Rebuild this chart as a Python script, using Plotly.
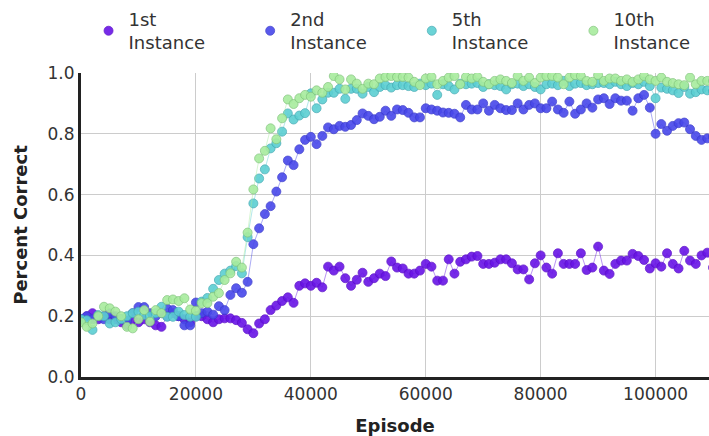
import plotly.graph_objects as go

episodes = list(range(0, 111000, 1000))

first = [0.19, 0.20, 0.21, 0.19, 0.20, 0.19, 0.19, 0.18, 0.17, 0.19,
         0.18, 0.19, 0.18, 0.17, 0.165, 0.20, 0.21, 0.20, 0.19, 0.18,
         0.20, 0.20, 0.19, 0.18, 0.19, 0.193, 0.193, 0.187, 0.178, 0.157,
         0.144, 0.176, 0.19, 0.22, 0.235, 0.25, 0.262, 0.244, 0.30, 0.308,
         0.30, 0.31, 0.295, 0.363, 0.35, 0.363, 0.325, 0.30, 0.32, 0.343,
         0.313, 0.325, 0.34, 0.332, 0.38, 0.36, 0.357, 0.34, 0.34, 0.35,
         0.372, 0.363, 0.317, 0.317, 0.387, 0.34, 0.379, 0.387, 0.396, 0.398,
         0.372, 0.372, 0.376, 0.387, 0.387, 0.374, 0.354, 0.354, 0.321, 0.374,
         0.40, 0.36, 0.34, 0.407, 0.372, 0.372, 0.372, 0.407, 0.352, 0.36,
         0.429, 0.35, 0.339, 0.372, 0.383, 0.383, 0.405, 0.398, 0.385, 0.357,
         0.374, 0.363, 0.407, 0.372, 0.357, 0.415, 0.383, 0.372, 0.40, 0.409, 0.36]

second = [0.19, 0.20, 0.19, 0.20, 0.19, 0.21, 0.20, 0.19, 0.185, 0.21,
          0.23, 0.23, 0.21, 0.20, 0.21, 0.225, 0.22, 0.20, 0.17, 0.17,
          0.245, 0.21, 0.215, 0.205, 0.233, 0.22, 0.27, 0.292, 0.277, 0.313,
          0.437, 0.489, 0.536, 0.562, 0.61, 0.657, 0.712, 0.697, 0.749, 0.78,
          0.79, 0.766, 0.793, 0.821, 0.815, 0.826, 0.823, 0.829, 0.845, 0.867,
          0.859, 0.848, 0.856, 0.876, 0.859, 0.88, 0.878, 0.869, 0.854, 0.854,
          0.884, 0.88, 0.876, 0.87, 0.869, 0.866, 0.854, 0.895, 0.88, 0.88,
          0.90, 0.876, 0.895, 0.884, 0.878, 0.878, 0.90, 0.88, 0.895, 0.90,
          0.884, 0.884, 0.906, 0.88, 0.869, 0.906, 0.866, 0.88, 0.90, 0.886,
          0.913, 0.917, 0.898, 0.917, 0.909, 0.909, 0.876, 0.917, 0.928, 0.886,
          0.80, 0.832, 0.81, 0.826, 0.835, 0.837, 0.815, 0.793, 0.78, 0.785, 0.79]

fifth = [0.19, 0.187, 0.155, 0.204, 0.20, 0.176, 0.18, 0.19, 0.20, 0.21,
         0.215, 0.204, 0.20, 0.21, 0.231, 0.198, 0.198, 0.215, 0.204, 0.198,
         0.198, 0.248, 0.26, 0.29, 0.319, 0.34, 0.35, 0.365, 0.341, 0.46,
         0.571, 0.653, 0.683, 0.752, 0.769, 0.807, 0.867, 0.847, 0.86, 0.868,
         0.933, 0.884, 0.913, 0.935, 0.935, 0.948, 0.915, 0.948, 0.948, 0.932,
         0.954, 0.937, 0.954, 0.96, 0.952, 0.96, 0.96, 0.957, 0.954, 0.965,
         0.96, 0.965, 0.928, 0.963, 0.957, 0.946, 0.965, 0.963, 0.965, 0.967,
         0.954, 0.963, 0.96, 0.957, 0.946, 0.963, 0.965, 0.957, 0.963, 0.954,
         0.946, 0.963, 0.965, 0.96, 0.974, 0.957, 0.965, 0.967, 0.96, 0.963,
         0.967, 0.967, 0.963, 0.971, 0.963, 0.957, 0.967, 0.963, 0.971, 0.957,
         0.917, 0.952, 0.948, 0.943, 0.934, 0.954, 0.932, 0.937, 0.946, 0.943, 0.94]

tenth = [0.18, 0.165, 0.176, 0.20, 0.231, 0.226, 0.215, 0.20, 0.165, 0.16,
         0.19, 0.22, 0.182, 0.22, 0.21, 0.253, 0.255, 0.25, 0.259, 0.222,
         0.218, 0.243, 0.243, 0.264, 0.276, 0.319, 0.341, 0.379, 0.36, 0.475,
         0.617, 0.719, 0.744, 0.818, 0.782, 0.851, 0.913, 0.898, 0.917, 0.928,
         0.922, 0.943, 0.935, 0.954, 0.99, 0.979, 0.946, 0.979, 0.965, 0.948,
         0.965, 0.963, 0.982, 0.987, 0.99, 0.987,
         0.987, 0.985, 0.971, 0.96, 0.982, 0.987, 0.963, 0.974, 0.985, 0.99,
         0.963, 0.987, 0.982, 0.987, 0.971, 0.963, 0.974, 0.979, 0.974, 0.967,
         0.99, 0.974, 0.985, 0.967, 0.985, 0.99, 0.99, 0.985,
         0.963, 0.985, 0.993, 0.99, 0.974, 0.971, 0.993, 0.974, 0.982, 0.982,
         0.974, 0.979, 0.971, 0.979, 0.99, 0.979, 0.974, 0.985, 0.971, 0.967,
         0.963, 0.96, 0.985, 0.963, 0.974, 0.974, 0.974]

pad = "\u00a0" * 7
names = ["1st<br>Instance" + pad, "2nd<br>Instance" + pad, "5th<br>Instance" + pad, "10th<br>Instance"]
series = [first, second, fifth, tenth]
fills = ["#6814e6", "#4848ea", "#5ccfd2", "#a8ec9e"]
edges = ["#5a0cc8", "#3a3acc", "#44aab4", "#82c47c"]

fig = go.Figure()
for name, ys, fc, ec in zip(names, series, fills, edges):
    fig.add_trace(go.Scatter(
        x=episodes, y=ys, mode="lines", showlegend=False, hoverinfo="skip",
        line=dict(color=fc, width=1), opacity=0.45))
    fig.add_trace(go.Scatter(
        x=episodes, y=ys, mode="markers", name=name,
        marker=dict(size=9, color=fc, opacity=0.9, line=dict(color=ec, width=0.8))))

font_family = "DejaVu Sans"
fig.update_layout(
    width=709, height=436,
    margin=dict(l=81, r=0, t=73, b=59),
    paper_bgcolor="white", plot_bgcolor="white",
    font=dict(family=font_family, size=17, color="#333333"),
    legend=dict(orientation="h", x=0.012, y=1.04, xanchor="left", yanchor="bottom",
                font=dict(size=18, color="#333333"),
                itemsizing="trace", bgcolor="rgba(0,0,0,0)",
                tracegroupgap=0),
    xaxis=dict(range=[0, 109300], tickvals=[0, 20000, 40000, 60000, 80000, 100000],
               ticktext=["0", "20000", "40000", "60000", "80000", "100000"],
               showgrid=True, gridcolor="#cccccc", gridwidth=1,
               showline=True, linecolor="#222222", linewidth=3,
               zeroline=False, ticks="", ticklen=0,
               title=dict(text="<b>Episode</b>", font=dict(size=18, color="#222222"), standoff=18)),
    yaxis=dict(range=[0, 1.0], tickvals=[0, 0.2, 0.4, 0.6, 0.8, 1.0],
               ticktext=["0.0", "0.2", "0.4", "0.6", "0.8", "1.0"],
               showgrid=True, gridcolor="#cccccc", gridwidth=1,
               showline=True, linecolor="#222222", linewidth=3,
               zeroline=False, ticks="", ticklen=0,
               title=dict(text="<b>Percent Correct</b>", font=dict(size=18, color="#222222"), standoff=16)),
)

fig.write_html("out.html")
